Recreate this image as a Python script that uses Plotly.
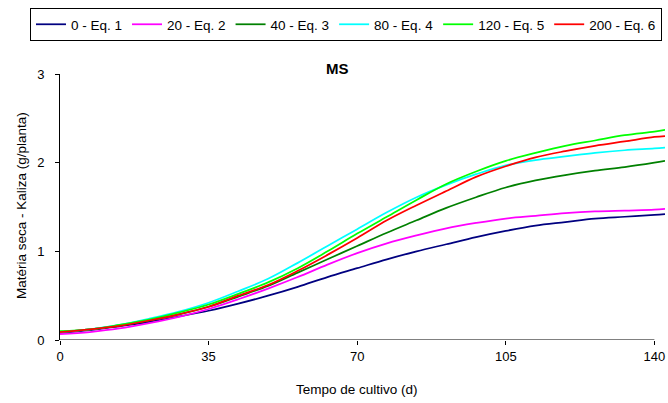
import plotly.graph_objects as go

days = [0, 7, 14, 21, 28, 35, 42, 49, 56, 63, 70, 77, 84, 91, 98, 105, 112, 119, 126, 133, 140, 142.5]

eq1_0 = [0.08, 0.11, 0.155, 0.205, 0.265, 0.33, 0.41, 0.50, 0.60, 0.71, 0.81, 0.91, 1.00, 1.08, 1.16, 1.23, 1.29, 1.33, 1.37, 1.39, 1.41, 1.42]
eq2_20 = [0.065, 0.09, 0.13, 0.19, 0.26, 0.35, 0.46, 0.58, 0.71, 0.85, 0.98, 1.09, 1.18, 1.26, 1.32, 1.37, 1.40, 1.43, 1.45, 1.46, 1.47, 1.48]
eq3_40 = [0.09, 0.12, 0.16, 0.22, 0.29, 0.375, 0.49, 0.61, 0.76, 0.91, 1.06, 1.21, 1.35, 1.49, 1.61, 1.72, 1.80, 1.86, 1.91, 1.95, 2.00, 2.02]
eq4_80 = [0.09, 0.12, 0.17, 0.24, 0.32, 0.42, 0.55, 0.69, 0.87, 1.06, 1.25, 1.44, 1.61, 1.75, 1.87, 1.97, 2.03, 2.07, 2.11, 2.14, 2.16, 2.17]
eq5_120 = [0.10, 0.12, 0.17, 0.23, 0.31, 0.40, 0.52, 0.65, 0.81, 1.00, 1.20, 1.39, 1.58, 1.76, 1.90, 2.02, 2.11, 2.19, 2.25, 2.31, 2.35, 2.37]
eq6_200 = [0.09, 0.12, 0.16, 0.22, 0.29, 0.375, 0.50, 0.62, 0.78, 0.96, 1.15, 1.35, 1.52, 1.68, 1.84, 1.96, 2.06, 2.13, 2.19, 2.24, 2.29, 2.30]

names = ["0 - Eq. 1", "20 - Eq. 2", "40 - Eq. 3", "80 - Eq. 4", "120 - Eq. 5", "200 - Eq. 6"]
series = [eq1_0, eq2_20, eq3_40, eq4_80, eq5_120, eq6_200]
colors = ["#000080", "#FF00FF", "#008000", "#00FFFF", "#00FF00", "#FF0000"]

x_ticks = [0, 35, 70, 105, 140]
y_ticks = [0, 1, 2, 3]

FONT = "Liberation Sans, Arial, sans-serif"
OFF = 0  # page body margin removed by post_script

# plot area in screen pixels
PL, PT, PR, PB = 60, 74, 664.6, 340
PW, PH = PR - PL, PB - PT

fig = go.Figure()
for name, vals, col in zip(names, series, colors):
    fig.add_trace(go.Scatter(x=days, y=vals, mode="lines", name=name,
                             line=dict(color=col, width=1.75, shape="spline")))

fig.update_layout(
    width=668, height=403,
    margin=dict(l=PL - OFF, r=668 - (PR - OFF), t=PT - OFF, b=403 - (PB - OFF), autoexpand=False),
    paper_bgcolor="white", plot_bgcolor="white",
    font=dict(family=FONT, size=12, color="black"),
    showlegend=True,
    legend=dict(orientation="h", x=(30 - PL) / PW, xanchor="left", y=1 + (PT - 8) / PH, yanchor="top",
                bordercolor="black", borderwidth=1, bgcolor="white",
                font=dict(size=13.5), itemwidth=30, tracegroupgap=0),
    xaxis=dict(range=[0, 142.5], tickvals=x_ticks, ticktext=[str(v) for v in x_ticks],
               showgrid=False, zeroline=False, showline=False,
               ticks="outside", ticklen=4, tickcolor="black", tickwidth=1,
               tickfont=dict(size=13)),
    yaxis=dict(range=[0, 3], tickvals=y_ticks, ticktext=[str(v) for v in y_ticks],
               showgrid=False, zeroline=False, showline=True, linecolor="black", linewidth=1,
               ticks="outside", ticklen=4, tickcolor="black", tickwidth=1,
               tickfont=dict(size=13), ticklabelstandoff=8),
    shapes=[dict(type="line", xref="x", yref="y", x0=0, x1=140, y0=0, y1=0,
                 line=dict(color="black", width=1))],
    annotations=[
        dict(text="<b>MS</b>", xref="paper", yref="paper", x=(337 - PL) / PW, y=1 + (PT - 68) / PH,
             xanchor="center", yanchor="middle", showarrow=False, font=dict(size=15)),
        dict(text="Tempo de cultivo (d)", xref="paper", yref="paper", x=(357 - PL) / PW,
             y=-(389 - PB) / PH, xanchor="center", yanchor="middle", showarrow=False,
             font=dict(size=13.5)),
        dict(text="Matéria seca - Kaliza (g/planta)", xref="paper", yref="paper",
             x=(22 - PL) / PW, y=(PB - 205) / PH, xanchor="center", yanchor="middle",
             textangle=-90, showarrow=False, font=dict(size=13.5)),
    ],
)

fig.write_html("out.html", config={"displayModeBar": False},
               post_script="document.body.style.margin='0';document.body.style.overflow='hidden';")
